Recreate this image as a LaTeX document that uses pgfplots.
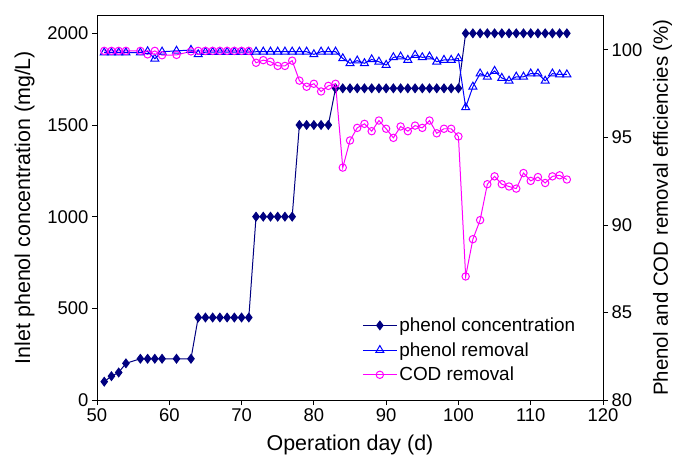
\documentclass[border=0pt]{standalone}
\usepackage{pgfplots}
\pgfplotsset{compat=1.18}
\usepackage{pgfplotstable}
\usepackage{fontspec}
\setmainfont{Liberation Sans}
\definecolor{navyc}{RGB}{0,0,128}
\definecolor{bluec}{RGB}{0,0,255}
\definecolor{magc}{RGB}{255,0,255}

\pgfplotstableread{
day conc
51 100
52 130
53 150
54 200
56 225
57 225
58 225
59 225
61 225
63 225
64 450
65 450
66 450
67 450
68 450
69 450
70 450
71 450
72 1000
73 1000
74 1000
75 1000
76 1000
77 1000
78 1500
79 1500
80 1500
81 1500
82 1500
83 1700
84 1700
85 1700
86 1700
87 1700
88 1700
89 1700
90 1700
91 1700
92 1700
93 1700
94 1700
95 1700
96 1700
97 1700
98 1700
99 1700
100 1700
101 2000
102 2000
103 2000
104 2000
105 2000
106 2000
107 2000
108 2000
109 2000
110 2000
111 2000
112 2000
113 2000
114 2000
115 2000
}\conctable

\pgfplotstableread{
day rem
51 99.85
52 99.85
53 99.85
54 99.85
56 99.85
57 99.92
58 99.50
59 99.90
61 99.95
63 100.0
64 99.75
65 99.88
66 99.88
67 99.88
68 99.88
69 99.88
70 99.88
71 99.88
72 99.90
73 99.90
74 99.90
75 99.90
76 99.90
77 99.90
78 99.90
79 99.90
80 99.75
81 99.90
82 99.90
83 99.90
84 99.52
85 99.24
86 99.39
87 99.24
88 99.46
89 99.33
90 99.14
91 99.58
92 99.62
93 99.43
94 99.71
95 99.58
96 99.62
97 99.33
98 99.43
99 99.43
100 99.52
101 96.72
102 97.90
103 98.65
104 98.47
105 98.80
106 98.40
107 98.24
108 98.47
109 98.47
110 98.65
111 98.65
112 98.24
113 98.65
114 98.60
115 98.60
}\remtable

\pgfplotstableread{
day cod
51 99.95
52 99.95
53 99.95
54 99.95
56 99.95
57 99.75
58 99.95
59 99.70
61 99.72
63 99.92
64 99.95
65 99.95
66 99.95
67 99.95
68 99.95
69 99.95
70 99.95
71 99.95
72 99.27
73 99.42
74 99.33
75 99.09
76 99.09
77 99.39
78 98.25
79 97.90
80 98.07
81 97.63
82 97.95
83 98.07
84 93.28
85 94.83
86 95.55
87 95.78
88 95.36
89 95.97
90 95.50
91 94.98
92 95.63
93 95.36
94 95.68
95 95.55
96 95.97
97 95.24
98 95.50
99 95.50
100 95.06
101 87.06
102 89.19
103 90.28
104 92.33
105 92.78
106 92.33
107 92.20
108 92.08
109 92.97
110 92.52
111 92.74
112 92.40
113 92.78
114 92.84
115 92.60
}\codtable

\begin{document}
\begin{tikzpicture}
\pgfplotsset{
  every axis/.append style={
    scale only axis, width=506bp, height=385bp,
    xmin=50, xmax=120,
    tick align=outside,
    major tick length=5bp,
    tick style={black, line width=1pt},
    axis line style={black, line width=1pt},
    ticklabel style={font=\fontsize{18.5}{18.5}\selectfont},
    label style={font=\fontsize{21.5}{21.5}\selectfont},
    /pgf/number format/assume math mode=true,
    /pgf/number format/1000 sep={},
  }
}
\begin{axis}[
  name=ax,
  ymin=0, ymax=2100,
  xtick={50,60,...,120},
  ytick={0,500,...,2000},
  xtick pos=bottom, ytick pos=left,
  xlabel={Operation day (d)},
  ylabel={Inlet phenol concentration (mg/L)},
  xlabel shift=7bp,
  ylabel shift=6bp,
]
\addplot[navyc, line width=1pt, mark=diamond*, mark size=4.3bp, mark options={fill=navyc, draw=navyc}] table[x=day, y=conc] {\conctable};
\end{axis}
\begin{axis}[
  ymin=80, ymax=102,
  axis y line*=right, axis x line=none,
  ytick={80,85,...,100},
  ylabel={Phenol and COD removal efficiencies (\%)},
  ylabel style={font=\fontsize{20.5}{20.5}\selectfont},
  ylabel shift=4bp,
  legend style={at={(0.524,0.04)}, anchor=south west, draw=none, fill=none,
    font=\fontsize{19}{19}\selectfont, row sep=5.5bp, inner sep=0pt},
  legend cell align=left,
  legend image code/.code={\draw[mark repeat=2,mark phase=2] plot coordinates {(0cm,0cm) (0.6cm,0cm) (1.2cm,0cm)};},
]
\addlegendimage{navyc, line width=1pt, mark=diamond*, mark size=4.3bp, mark options={fill=navyc, draw=navyc}}
\addlegendentry{phenol concentration}
\addplot[bluec, line width=1pt, mark=triangle, mark size=4.6bp, mark options={fill=white, draw=bluec, solid}] table[x=day, y=rem] {\remtable};
\addlegendentry{phenol removal}
\addplot[magc, line width=1pt, mark=o, mark size=3.7bp, mark options={fill=white, draw=magc, solid}] table[x=day, y=cod] {\codtable};
\addlegendentry{COD removal}
\end{axis}
\pgfresetboundingbox
\path ([xshift=-97bp, yshift=-61bp]ax.south west) rectangle ([xshift=75bp, yshift=15bp]ax.north east);
\end{tikzpicture}
\end{document}
